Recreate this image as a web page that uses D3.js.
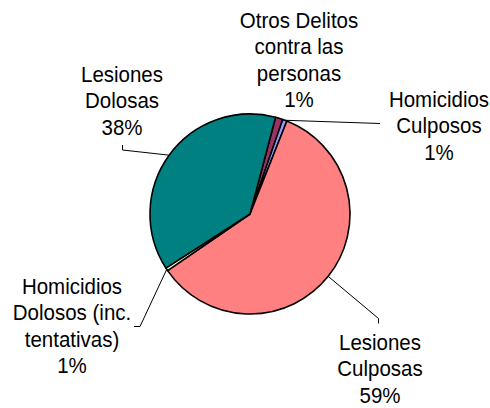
<!DOCTYPE html>
<html>
<head>
<meta charset="utf-8">
<script src="https://cdn.jsdelivr.net/npm/d3@7"></script>
<style>
  body { margin: 0; background: #fff; }
  svg { display: block; }
</style>
</head>
<body>
<svg id="chart" width="490" height="408"></svg>
<script>
// data, clockwise from the first slice
const categories = [
    "Otros Delitos contra las personas",
    "Homicidios Culposos",
    "Lesiones Culposas",
    "Homicidios Dolosos (inc. tentativas)",
    "Lesiones Dolosas"
];
const values = [1.2, 0.7, 59.4, 0.5, 38.2];
const labelLines = [
    ["Otros Delitos", "contra las", "personas"],
    ["Homicidios", "Culposos"],
    ["Lesiones", "Culposas"],
    ["Homicidios", "Dolosos (inc.", "tentativas)"],
    ["Lesiones", "Dolosas"]
];
const colors = ["#993366", "#9999FF", "#FF8080", "#FFFFCC", "#008080"];

// label placement (first baseline) and leader line bends
const labelPos = [
    { x: 299, y: 28, bends: null },
    { x: 439, y: 107, bends: [[380, 123.5]] },
    { x: 380, y: 350, bends: [[378.5, 318.5], [378.5, 323.5]] },
    { x: 72, y: 294, bends: [[140, 326.5], [134, 326.5]] },
    { x: 122, y: 82, bends: [[122.5, 150], [122.5, 145]] }
];

const cx = 250, cy = 214, radius = 100;
const lineH = 26.3;
const stretchY = 1.09; // glyphs in the original are a bit taller than wide
const startAngle = 14.8 * Math.PI / 180;

const svg = d3.select("#chart");
const total = d3.sum(values);

const data = categories.map((c, i) => ({
    name: c,
    value: values[i],
    lines: labelLines[i],
    color: colors[i],
    pos: labelPos[i]
}));

const pie = d3.pie()
    .value(d => d.value)
    .sort(null)
    .startAngle(startAngle)
    .endAngle(startAngle + 2 * Math.PI);

const arc = d3.arc()
    .innerRadius(0)
    .outerRadius(radius);

const arcs = pie(data);

const g = svg.append("g")
    .attr("transform", `translate(${cx},${cy})`);

g.selectAll("path.slice")
    .data(arcs)
    .join("path")
    .attr("class", "slice")
    .attr("d", arc)
    .attr("fill", d => d.data.color)
    .attr("stroke", "#000")
    .attr("stroke-width", 1.6)
    .attr("stroke-linejoin", "round");

// leader lines from the slice edge to the label
const line = d3.line();
arcs.forEach(d => {
    if (!d.data.pos.bends) return;
    const mid = (d.startAngle + d.endAngle) / 2;
    const p0 = [cx + radius * Math.sin(mid), cy - radius * Math.cos(mid)];
    svg.append("path")
        .attr("d", line([p0, ...d.data.pos.bends]))
        .attr("fill", "none")
        .attr("stroke", "#000")
        .attr("stroke-width", 1);
});

// labels
arcs.forEach(d => {
    const pct = Math.round(d.data.value / total * 100) + "%";
    const lines = [...d.data.lines, pct];
    const t = svg.append("text")
        .attr("transform", `translate(${d.data.pos.x},${d.data.pos.y}) scale(1,${stretchY})`)
        .attr("text-anchor", "middle")
        .attr("fill", "#000")
        .style("font-family", "'Liberation Sans', Arial, sans-serif")
        .style("font-size", "20.5px");
    lines.forEach((s, i) => {
        t.append("tspan")
            .attr("x", 0)
            .attr("y", i * lineH / stretchY)
            .text(s);
    });
});
</script>
</body>
</html>
